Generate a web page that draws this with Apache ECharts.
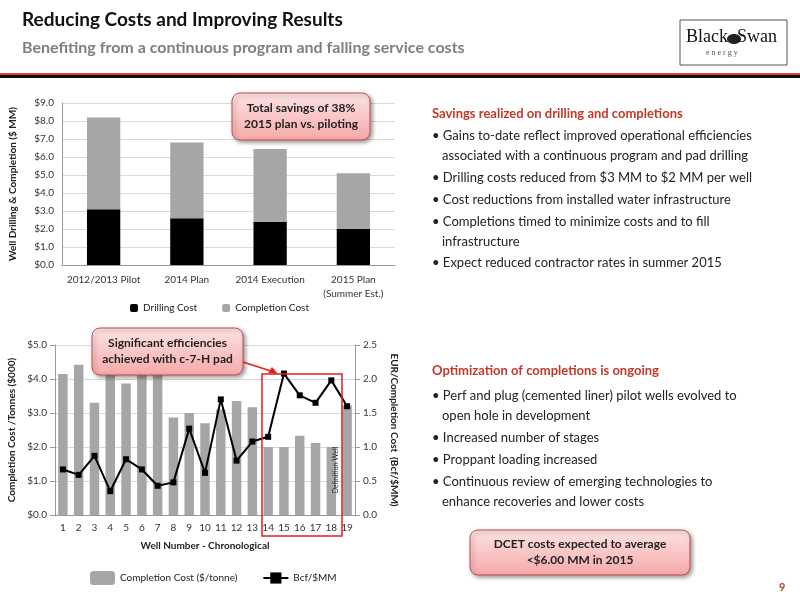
<!DOCTYPE html>
<html><head><meta charset="utf-8">
<script src="https://cdn.jsdelivr.net/npm/echarts@6/dist/echarts.min.js"></script>
<style>html,body{margin:0;padding:0;background:#fff}#c{width:800px;height:600px}</style>
</head><body><div id="c"></div>
<script>
const phases = ['2012/2013 Pilot','2014 Plan','2014 Execution','2015 Plan\n(Summer Est.)'];
const drilling = [3.1,2.6,2.4,2.0];
const completion = [5.1,4.2,4.05,3.1];
const wells = ['1','2','3','4','5','6','7','8','9','10','11','12','13','14','15','16','17','18','19'];
const costPerTonne = [4.15,4.42,3.3,4.35,3.87,4.42,4.13,2.87,3.0,2.7,3.1,3.35,3.17,2.0,2.0,2.33,2.12,2.0,3.22];
const bcfPerMM = [0.67,0.59,0.87,0.35,0.82,0.67,0.43,0.48,1.27,0.62,1.7,0.8,1.08,1.15,2.08,1.76,1.65,1.98,1.6];

const F = 'Lato, "Open Sans", sans-serif';
const red = '#C0392B';
const ax = {color:'#333', fontSize:10, fontFamily:F};
const chart = echarts.init(document.getElementById('c'));
function tx(x,y,s,font,fill){return {type:'text',x:x,y:y,z:100,style:{text:s,font:font||('13px '+F),fill:fill||'#222'}};}
function callout(x,y,w,h,lines){
  return {type:'group',z:100,children:[
    {type:'rect',z:100,shape:{x:x,y:y,width:w,height:h,r:8},style:{fill:new echarts.graphic.LinearGradient(0,0,0,1,[{offset:0,color:'#fde4e4'},{offset:1,color:'#f6a8a8'}]),stroke:'#c0504d',lineWidth:1,shadowBlur:4,shadowOffsetX:2,shadowOffsetY:2,shadowColor:'rgba(0,0,0,0.4)'}},
    {type:'text',z:101,x:x+w/2,y:y+h/2,style:{text:lines,font:'bold 12px '+F,fill:'#222',align:'center',verticalAlign:'middle',lineHeight:16}}
  ]};
}
const bullets1 = [
 ['• Gains to-date reflect improved operational efficiencies',138],['   associated with a continuous program and pad drilling',158],
 ['• Drilling costs reduced from $3 MM to $2 MM per well',180],['• Cost reductions from installed water infrastructure',202],
 ['• Completions timed to minimize costs and to fill',224],['   infrastructure',244],['• Expect reduced contractor rates in summer 2015',265]];
const bullets2 = [
 ['• Perf and plug (cemented liner) pilot wells evolved to',398],['   open hole in development',418],['• Increased number of stages',440],
 ['• Proppant loading increased',462],['• Continuous review of emerging technologies to',484],['   enhance recoveries and lower costs',504]];
const g = [
 tx(22,10,'Reducing Costs and Improving Results','bold 19px '+F,'#111'),
 tx(22,40,'Benefiting from a continuous program and falling service costs','bold 16px '+F,'#7f7f7f'),
 {type:'rect',shape:{x:0,y:73,width:800,height:2},style:{fill:'#e04040'}},
 {type:'rect',shape:{x:0,y:75,width:800,height:3},style:{fill:'#111'}},
 {type:'rect',shape:{x:680,y:20,width:107,height:45},style:{fill:'#fff',stroke:'#555',lineWidth:1}},
 tx(686,28,'Black  Swan','18px "Liberation Serif", serif','#111'),
 {type:'ellipse',shape:{cx:734,cy:39,rx:7,ry:5},style:{fill:'#222'}},
 tx(706,49,'e n e r g y','8px "Liberation Serif", serif','#555'),
 tx(432,107,'Savings realized on drilling and completions','bold 13px '+F,red),
 tx(432,364,'Optimization of completions is ongoing','bold 13px '+F,red),
 callout(232,93,138,47,'Total savings of 38%\n2015 plan vs. piloting'),
 callout(92,328,151,47,'Significant efficiencies\nachieved with c-7-H pad'),
 callout(470,530,220,45,'DCET costs expected to average\n<$6.00 MM in 2015'),
 {type:'line',z:100,shape:{x1:243,y1:362,x2:274,y2:372},style:{stroke:'#e02020',lineWidth:1.5}},
 {type:'polygon',z:100,shape:{points:[[278,374],[268,373],[272,367]]},style:{fill:'#e02020'}},
 {type:'rect',z:100,shape:{x:262,y:374,width:80,height:162},style:{fill:'none',stroke:'#e02020',lineWidth:1.5}},
 {type:'text',z:100,x:336,y:470,rotation:Math.PI/2,style:{text:'Definition Well',font:'7px '+F,fill:'#222',align:'center',verticalAlign:'middle'}},
 tx(779,582,'9','bold 11px '+F,red)
];
bullets1.forEach(b=>g.push(tx(432,b[1]-9,b[0])));
bullets2.forEach(b=>g.push(tx(432,b[1]-9,b[0])));

chart.setOption({
 animation:false,
 textStyle:{fontFamily:F},
 grid:[{left:62,top:103,width:333,height:162},{left:55,top:345,width:300,height:170}],
 legend:[
  {data:['Drilling Cost','Completion Cost'],left:125,top:298,itemWidth:8,itemHeight:8,itemGap:25,textStyle:{fontSize:10,fontFamily:F,color:'#222'}},
  {data:['Completion Cost ($/tonne)','Bcf/$MM'],left:85,top:566,itemGap:25,textStyle:{fontSize:10,fontFamily:F,color:'#222'}}
 ],
 xAxis:[
  {gridIndex:0,type:'category',data:phases,axisLabel:Object.assign({interval:0,lineHeight:14},ax),axisLine:{lineStyle:{color:'#999'}},axisTick:{show:false}},
  {gridIndex:1,type:'category',data:wells,name:'Well Number - Chronological',nameLocation:'middle',nameGap:26,nameTextStyle:{fontWeight:'bold',fontSize:10,fontFamily:F,color:'#222'},axisLabel:Object.assign({interval:0},ax),axisLine:{lineStyle:{color:'#999'}},axisTick:{show:false}}
 ],
 yAxis:[
  {gridIndex:0,min:0,max:9,interval:1,name:'Well Drilling & Completion ($ MM)',nameLocation:'middle',nameGap:44,nameTextStyle:{fontWeight:'bold',fontSize:10,color:'#222'},axisLabel:Object.assign({formatter:v=>'$'+v.toFixed(1)},ax),splitLine:{lineStyle:{color:'#d9d9d9'}},axisLine:{show:true,lineStyle:{color:'#999'}}},
  {gridIndex:1,min:0,max:5,interval:1,name:'Completion Cost /Tonnes ($000)',nameLocation:'middle',nameGap:38,nameTextStyle:{fontWeight:'bold',fontSize:10,color:'#222'},axisLabel:Object.assign({formatter:v=>'$'+v.toFixed(1)},ax),splitLine:{lineStyle:{color:'#d9d9d9'}},axisLine:{show:true,lineStyle:{color:'#999'}},axisTick:{show:true}},
  {gridIndex:1,min:0,max:2.5,interval:0.5,position:'right',name:'EUR/Completion Cost  (Bcf/$MM)',nameLocation:'middle',nameGap:34,nameRotate:-90,nameTextStyle:{fontWeight:'bold',fontSize:10,color:'#222'},axisLabel:Object.assign({formatter:v=>v.toFixed(1)},ax),splitLine:{show:false},axisLine:{show:true,lineStyle:{color:'#999'}},axisTick:{show:true}}
 ],
 series:[
  {name:'Drilling Cost',type:'bar',stack:'a',xAxisIndex:0,yAxisIndex:0,data:drilling,barWidth:'40%',itemStyle:{color:'#000'}},
  {name:'Completion Cost',type:'bar',stack:'a',xAxisIndex:0,yAxisIndex:0,data:completion,barWidth:'40%',itemStyle:{color:'#a6a6a6'}},
  {name:'Completion Cost ($/tonne)',type:'bar',xAxisIndex:1,yAxisIndex:1,data:costPerTonne,barWidth:'60%',itemStyle:{color:'#a6a6a6'}},
  {name:'Bcf/$MM',type:'line',xAxisIndex:1,yAxisIndex:2,data:bcfPerMM,symbol:'rect',symbolSize:6,lineStyle:{color:'#000',width:2},itemStyle:{color:'#000'}}
 ],
 graphic:g
});
</script></body></html>
